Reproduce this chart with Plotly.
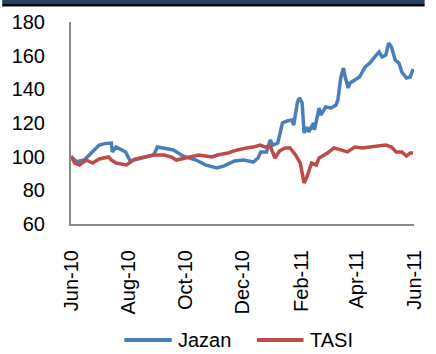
import plotly.graph_objects as go

# Jazan share price, rebased to 100
jazan_dates = [
    "2010-06-01", "2010-06-07", "2010-06-15", "2010-06-24", "2010-07-01", "2010-07-08",
    "2010-07-14", "2010-07-15", "2010-07-19", "2010-07-29", "2010-08-03", "2010-08-11",
    "2010-08-21", "2010-08-28", "2010-09-01", "2010-09-08", "2010-09-18", "2010-09-28",
    "2010-10-12", "2010-10-22", "2010-11-03", "2010-11-11", "2010-11-22", "2010-12-02",
    "2010-12-12", "2010-12-17", "2010-12-20", "2010-12-26", "2010-12-30", "2011-01-02",
    "2011-01-07", "2011-01-12", "2011-01-17", "2011-01-22", "2011-01-24", "2011-01-28",
    "2011-01-30", "2011-02-02", "2011-02-04", "2011-02-07", "2011-02-09", "2011-02-14",
    "2011-02-15", "2011-02-20", "2011-02-22", "2011-02-27", "2011-03-05", "2011-03-10",
    "2011-03-12", "2011-03-15", "2011-03-18", "2011-03-20", "2011-03-23", "2011-03-25",
    "2011-03-30", "2011-04-04", "2011-04-10", "2011-04-15", "2011-04-22", "2011-04-25",
    "2011-04-28", "2011-05-02", "2011-05-05", "2011-05-08", "2011-05-12", "2011-05-16",
    "2011-05-19", "2011-05-24", "2011-05-28", "2011-05-31",
]
jazan_values = [
    100.0, 97.0, 98.0, 103.0, 106.9, 107.9,
    108.1, 102.8, 105.7, 102.8, 97.4, 98.6,
    99.8, 101.0, 105.7, 105.2, 104.0, 100.4,
    98.0, 95.1, 93.3, 94.5, 97.4, 98.0,
    96.8, 99.2, 102.8, 102.8, 109.9, 106.9,
    108.1, 120.0, 121.2, 121.8, 118.8, 132.5,
    134.9, 131.9, 114.1, 117.6, 114.7, 120.0,
    115.9, 128.9, 124.8, 129.5, 128.9, 130.7,
    133.7, 146.7, 152.7, 146.7, 140.8, 143.8,
    145.5, 147.3, 153.3, 155.6, 160.4, 162.2,
    159.2, 160.4, 167.5, 165.1, 157.4, 155.6,
    150.3, 146.7, 147.3, 152.1,
]

# TASI index, rebased to 100
tasi_dates = [
    "2010-06-01", "2010-06-05", "2010-06-10", "2010-06-17", "2010-06-24", "2010-07-01",
    "2010-07-11", "2010-07-14", "2010-07-19", "2010-07-30", "2010-08-08", "2010-08-18",
    "2010-08-28", "2010-09-08", "2010-09-16", "2010-09-21", "2010-10-04", "2010-10-15",
    "2010-10-29", "2010-11-04", "2010-11-15", "2010-11-25", "2010-12-05", "2010-12-12",
    "2010-12-19", "2010-12-25", "2010-12-30", "2011-01-04", "2011-01-09", "2011-01-15",
    "2011-01-20", "2011-01-26", "2011-01-31", "2011-02-04", "2011-02-07", "2011-02-12",
    "2011-02-17", "2011-02-20", "2011-03-01", "2011-03-08", "2011-03-15", "2011-03-22",
    "2011-03-30", "2011-04-07", "2011-04-15", "2011-04-25", "2011-05-02", "2011-05-08",
    "2011-05-13", "2011-05-19", "2011-05-24", "2011-05-28", "2011-05-31",
]
tasi_values = [
    100.4, 96.2, 95.1, 98.0, 96.2, 98.6,
    99.8, 98.0, 96.2, 95.1, 98.6, 99.8,
    101.0, 101.0, 99.8, 98.0, 99.8, 101.0,
    99.8, 101.0, 102.2, 104.0, 105.2, 105.7,
    106.9, 105.7, 106.3, 99.2, 103.4, 105.2,
    105.2, 101.0, 96.2, 84.4, 87.9, 96.2,
    95.1, 99.2, 102.2, 105.2, 104.0, 102.8,
    105.7, 105.2, 105.7, 106.3, 106.9, 105.7,
    102.8, 102.8, 100.4, 102.2, 102.2,
]

tick_dates = ["2010-06-01", "2010-08-01", "2010-10-01", "2010-12-01",
              "2011-02-01", "2011-04-01", "2011-06-01"]
tick_labels = ["Jun-10", "Aug-10", "Oct-10", "Dec-10", "Feb-11", "Apr-11", "Jun-11"]

series_names = ["Jazan", "TASI"]
series_colors = ["#4A7EBB", "#BE4B48"]

FONT = "Liberation Sans, Arial, sans-serif"
L, R, T, B = 71, 11, 22, 130
W, H = 436, 354
PW, PH = W - L - R, H - T - B


def px_x(px):
    """Horizontal pixel -> paper coordinate."""
    return (px - L) / PW


def px_y(py):
    """Vertical pixel (from top) -> paper coordinate."""
    return (H - B - py) / PH


fig = go.Figure()
for name, xs, ys, col in zip(series_names, [jazan_dates, tasi_dates],
                             [jazan_values, tasi_values], series_colors):
    fig.add_trace(go.Scatter(x=xs, y=ys, name=name, mode="lines",
                             line=dict(color=col, width=3.5), showlegend=False))

# legend drawn below the axis with long line samples
legend_y = px_y(340)
legend_items = [(126, 175, 179), (263, 311, 316)]
shapes = []
annotations = []
for (x0, x1, tx), name, col in zip(legend_items, series_names, series_colors):
    shapes.append(dict(type="line", xref="paper", yref="paper",
                       x0=px_x(x0), x1=px_x(x1), y0=legend_y, y1=legend_y,
                       line=dict(color=col, width=4)))
    annotations.append(dict(text=name, xref="paper", yref="paper",
                            x=px_x(tx), y=legend_y, xanchor="left", yanchor="middle",
                            showarrow=False, font=dict(size=20, family=FONT, color="black")))

# dark header band across the top edge
shapes.append(dict(type="rect", xref="paper", yref="paper",
                   x0=px_x(0), x1=px_x(W), y0=px_y(4), y1=px_y(0),
                   fillcolor="#243F60", line=dict(width=0), layer="above"))
shapes.append(dict(type="rect", xref="paper", yref="paper",
                   x0=px_x(0), x1=px_x(W), y0=px_y(6.5), y1=px_y(4),
                   fillcolor="#0A0A0A", line=dict(width=0), layer="above"))

fig.update_layout(
    width=W, height=H,
    margin=dict(l=L, r=R, t=T, b=B),
    paper_bgcolor="white", plot_bgcolor="white",
    font=dict(family=FONT, size=20, color="black"),
    showlegend=False,
    xaxis=dict(
        type="date", range=["2010-06-01", "2011-06-01"],
        tickvals=tick_dates, ticktext=tick_labels, tickangle=-90,
        showgrid=False, zeroline=False, showline=True, linecolor="#888888", linewidth=2,
        ticks="", ticklabelstandoff=16, tickfont=dict(size=20),
    ),
    yaxis=dict(
        range=[60, 180], dtick=20, tick0=60,
        showgrid=False, zeroline=False, showline=True, linecolor="#888888", linewidth=2,
        ticks="", ticklabelstandoff=20, tickfont=dict(size=20),
    ),
    shapes=shapes,
    annotations=annotations,
)

fig.write_html("out.html")
